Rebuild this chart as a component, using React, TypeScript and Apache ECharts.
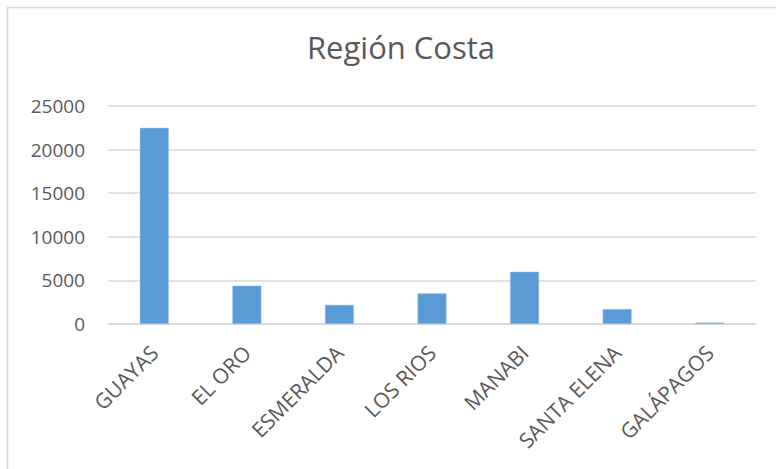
import React, { useEffect, useRef } from "react";
import * as echarts from "echarts";

const titleText = "Región Costa";
const categories = ["GUAYAS", "EL ORO", "ESMERALDA", "LOS RIOS", "MANABI", "SANTA ELENA", "GALÁPAGOS"];
const values = [22500, 4400, 2200, 3520, 6000, 1720, 160];
const yTicks = { min: 0, max: 25000, interval: 5000 };

export default function App() {
  const ref = useRef<HTMLDivElement>(null);
  useEffect(() => {
    if (!ref.current) return;
    const chart = echarts.init(ref.current, null, { renderer: "svg" });
    const font = "'Open Sans', sans-serif";
    chart.setOption({
      animation: false,
      backgroundColor: "#ffffff",
      title: {
        text: titleText,
        left: 396,
        top: 26,
        textAlign: "center",
        textStyle: { fontFamily: font, fontSize: 31, fontWeight: "normal", color: "#595959" },
      },
      graphic: [
        {
          type: "polyline",
          shape: { points: [[7.5, 469], [7.5, 7.5], [776, 7.5]] },
          style: { fill: "none", stroke: "#d9d9d9", lineWidth: 1.5 },
          silent: true,
        },
      ],
      grid: { left: 108, right: 20, top: 106, bottom: 145, containLabel: false },
      xAxis: {
        type: "category",
        data: categories,
        axisLine: { lineStyle: { color: "#d9d9d9", width: 1.5 } },
        axisTick: { show: false },
        axisLabel: {
          rotate: 45,
          interval: 0,
          margin: 25,
          fontFamily: font,
          fontSize: 21,
          color: "#595959",
        },
      },
      yAxis: {
        type: "value",
        min: yTicks.min,
        max: yTicks.max,
        interval: yTicks.interval,
        axisLine: { show: false },
        axisTick: { show: false },
        splitLine: { lineStyle: { color: "#d9d9d9", width: 1.5 } },
        axisLabel: {
          margin: 23,
          fontFamily: font,
          fontSize: 19,
          color: "#595959",
          formatter: (v: number) => String(v),
        },
      },
      series: [
        {
          type: "bar",
          data: values,
          barWidth: 29,
          itemStyle: { color: "#5b9bd5", borderColor: "#a9c9ea", borderWidth: 0.5 },
        },
      ],
    });
    return () => chart.dispose();
  }, []);
  return (
    <div
      ref={ref}
      style={{ position: "absolute", left: 0, top: 0, width: 776, height: 469 }}
    />
  );
}
